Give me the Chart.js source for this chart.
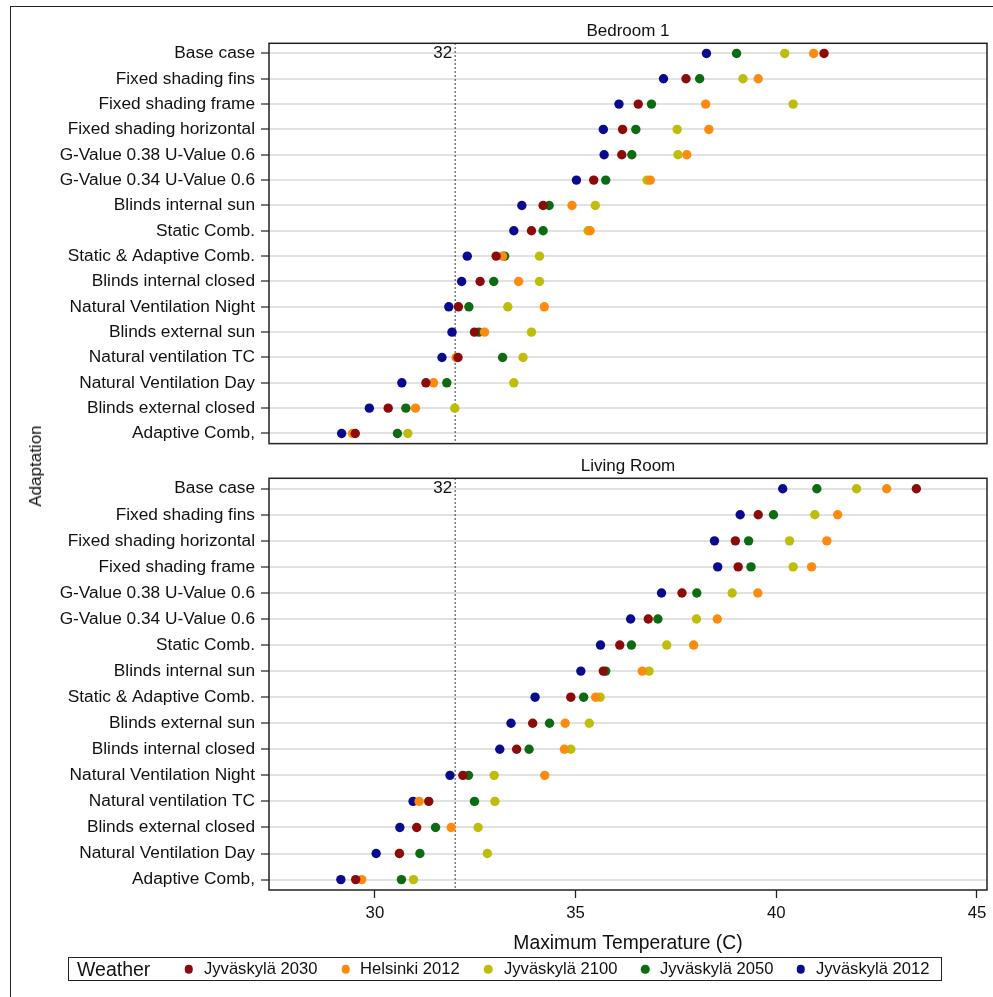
<!DOCTYPE html>
<html>
<head>
<meta charset="utf-8">
<script src="https://cdn.jsdelivr.net/npm/chart.js@4.4.1/dist/chart.umd.min.js"></script>
<style>
  html, body { margin: 0; padding: 0; background: #fff; }
  #wrap { position: relative; width: 993px; height: 997px; overflow: hidden; background: #fff;
          font-family: 'Liberation Sans', Arial, sans-serif; color: #111; }
  .frameTop { position: absolute; left: 10px; top: 6px; width: 983px; height: 0; border-top: 1.5px solid #222; }
  .frameLeft { position: absolute; left: 10px; top: 6px; width: 0; height: 991px; border-left: 1.5px solid #222; }
  .panel { position: absolute; left: 0; }
  #yTitle { position: absolute; left: 36px; top: 466px; transform: translate(-50%, -50%) rotate(-90deg);
            font-size: 17px; white-space: nowrap; }
  #legend { position: absolute; left: 68px; top: 957px; width: 872px; height: 22px; border: 1.5px solid #222; }
  #legend .ttl { position: absolute; left: 8px; top: 50%; transform: translateY(-50%); font-size: 19.5px; }
  #legend .dot { position: absolute; top: 50%; width: 8.5px; height: 8.5px; border-radius: 50%; transform: translate(-50%, -50%); }
  #legend .lab { position: absolute; top: 50%; transform: translateY(-50%); font-size: 16.6px; white-space: nowrap; }
</style>
</head>
<body>
<div id="wrap">
  <div class="frameTop"></div>
  <div class="frameLeft"></div>
  <div class="panel" style="top:0"><canvas id="bedroom" width="993" height="460"></canvas></div>
  <div class="panel" style="top:446px"><canvas id="living" width="993" height="514"></canvas></div>
  <div id="yTitle">Adaptation</div>
  <div id="legend"></div>
</div>
<script>
// Adaptation measures, top to bottom, for each room
const bedroomCategories = [
  'Base case', 'Fixed shading fins', 'Fixed shading frame', 'Fixed shading horizontal',
  'G-Value 0.38 U-Value 0.6', 'G-Value 0.34 U-Value 0.6', 'Blinds internal sun', 'Static Comb.',
  'Static & Adaptive Comb.', 'Blinds internal closed', 'Natural Ventilation Night', 'Blinds external sun',
  'Natural ventilation TC', 'Natural Ventilation Day', 'Blinds external closed', 'Adaptive Comb,'
];
const livingCategories = [
  'Base case', 'Fixed shading fins', 'Fixed shading horizontal', 'Fixed shading frame',
  'G-Value 0.38 U-Value 0.6', 'G-Value 0.34 U-Value 0.6', 'Static Comb.', 'Blinds internal sun',
  'Static & Adaptive Comb.', 'Blinds external sun', 'Blinds internal closed', 'Natural Ventilation Night',
  'Natural ventilation TC', 'Blinds external closed', 'Natural Ventilation Day', 'Adaptive Comb,'
];

// Maximum temperature (C) per weather file, Bedroom 1
const bedroomJyv2030 = [41.19, 37.75, 36.56, 36.17, 36.15, 35.45, 34.19, 33.90, 33.02, 32.62, 32.08, 32.48, 32.07, 31.27, 30.33, 29.51];
const bedroomHel2012 = [40.93, 39.55, 38.24, 38.32, 37.77, 36.86, 34.91, 35.36, 33.18, 33.58, 34.22, 32.73, 32.02, 31.46, 31.01, 29.44];
const bedroomJyv2100 = [40.21, 39.17, 40.42, 37.53, 37.55, 36.78, 35.49, 35.31, 34.10, 34.10, 33.31, 33.90, 33.69, 33.46, 31.99, 30.82];
const bedroomJyv2050 = [39.01, 38.09, 36.89, 36.50, 36.40, 35.75, 34.34, 34.19, 33.23, 32.96, 32.34, 32.59, 33.18, 31.79, 30.77, 30.56];
const bedroomJyv2012 = [38.26, 37.19, 36.08, 35.69, 35.71, 35.02, 33.66, 33.46, 32.30, 32.16, 31.84, 31.92, 31.67, 30.67, 29.86, 29.17];

// Maximum temperature (C) per weather file, Living Room
const livingJyv2030 = [43.49, 39.55, 38.98, 39.05, 37.65, 36.81, 36.10, 35.69, 34.88, 33.93, 33.53, 32.19, 31.34, 31.04, 30.61, 29.52];
const livingHel2012 = [42.75, 41.53, 41.26, 40.88, 39.54, 38.53, 37.94, 36.66, 35.50, 34.74, 34.72, 34.23, 31.10, 31.90, 30.61, 29.67];
const livingJyv2100 = [42.00, 40.96, 40.33, 40.42, 38.90, 38.01, 37.27, 36.83, 35.61, 35.34, 34.88, 32.97, 32.99, 32.57, 32.80, 30.96];
const livingJyv2050 = [41.01, 39.93, 39.31, 39.37, 38.02, 37.05, 36.39, 35.75, 35.20, 34.35, 33.84, 32.33, 32.48, 31.51, 31.12, 30.66];
const livingJyv2012 = [40.16, 39.10, 38.46, 38.54, 37.14, 36.37, 35.62, 35.13, 33.99, 33.39, 33.11, 31.87, 30.95, 30.62, 30.03, 29.15];

// Weather series: legend names and marker colours
const seriesNames = ['Jyväskylä 2030', 'Helsinki 2012', 'Jyväskylä 2100', 'Jyväskylä 2050', 'Jyväskylä 2012'];
const seriesColors = ['#8c0a0a', '#ff8a0d', '#bdbd0a', '#0d6b12', '#0a0a8f'];

// Axis settings
const xTickValues = [30, 35, 40, 45];
const xMin = 27.36, xMax = 45.25;
const thresholdTemp = 32;

const labelFont = "'Liberation Sans', Arial, sans-serif";
Chart.defaults.font.family = labelFont;
Chart.defaults.color = '#111';

function makeDatasets(cats, seriesValues) {
  const sets = seriesValues.map((vals, s) => ({
    label: seriesNames[s],
    data: vals.map((v, i) => ({ x: v, y: i })),
    backgroundColor: seriesColors[s],
    borderWidth: 0,
    pointRadius: 4.7,
    pointStyle: 'circle',
    showLine: false
  }));
  // dotted threshold line at 32 C
  sets.push({
    label: 'threshold',
    data: [{ x: thresholdTemp, y: -0.4 }, { x: thresholdTemp, y: cats.length - 0.6 }],
    showLine: true,
    borderColor: '#444',
    borderWidth: 1.4,
    borderDash: [1.4, 2.6],
    pointRadius: 0,
    fill: false
  });
  return sets;
}

// Panel header, frame and threshold label
const panelPlugin = {
  id: 'panelDecor',
  afterDraw(chart, args, opts) {
    const { ctx, chartArea: a, scales } = chart;
    ctx.save();
    ctx.strokeStyle = '#222';
    ctx.lineWidth = 1.5;
    ctx.strokeRect(a.left, a.top, a.right - a.left, a.bottom - a.top);
    ctx.fillStyle = '#111';
    ctx.font = '17px ' + labelFont;
    ctx.textAlign = 'center';
    ctx.textBaseline = 'middle';
    ctx.fillText(opts.title, (a.left + a.right) / 2, a.top - 11.5);
    ctx.font = '17px ' + labelFont;
    ctx.textAlign = 'right';
    ctx.fillText(String(thresholdTemp), scales.x.getPixelForValue(thresholdTemp) - 3, scales.y.getPixelForValue(0));
    ctx.restore();
  }
};

function makeChart(id, cats, seriesValues, title, showX, padding) {
  return new Chart(document.getElementById(id), {
    type: 'scatter',
    data: { datasets: makeDatasets(cats, seriesValues) },
    plugins: [panelPlugin],
    options: {
      responsive: false,
      devicePixelRatio: 1,
      animation: false,
      events: [],
      layout: { padding },
      plugins: {
        legend: { display: false },
        tooltip: { enabled: false },
        panelDecor: { title }
      },
      scales: {
        x: {
          type: 'linear',
          min: xMin,
          max: xMax,
          display: showX,
          afterBuildTicks: s => { s.ticks = xTickValues.map(v => ({ value: v })); },
          afterFit: s => { if (showX) s.height = 65; },
          grid: { drawOnChartArea: false, drawTicks: true, tickLength: 8, tickColor: '#222', tickWidth: 1.3 },
          border: { display: false },
          ticks: { font: { size: 16.8 }, padding: 5, color: '#111', maxRotation: 0 },
          title: { display: showX, text: 'Maximum Temperature (C)', font: { size: 19.3 }, padding: { top: 0, bottom: 0 }, color: '#111' }
        },
        y: {
          type: 'linear',
          reverse: true,
          min: -0.4,
          max: cats.length - 0.6,
          afterBuildTicks: s => { s.ticks = cats.map((c, i) => ({ value: i })); },
          afterFit: s => { s.width = 269; },
          grid: { color: '#e2e2e2', lineWidth: 2, drawTicks: true, tickLength: 8, tickColor: '#222', tickWidth: 1.2 },
          border: { display: false },
          ticks: { autoSkip: false, font: { size: 17.3 }, padding: 6, color: '#111', callback: v => cats[v] }
        }
      }
    }
  });
}

makeChart('bedroom', bedroomCategories,
  [bedroomJyv2030, bedroomHel2012, bedroomJyv2100, bedroomJyv2050, bedroomJyv2012],
  'Bedroom 1', false, { top: 43.3, right: 6, bottom: 5, left: 0 });

makeChart('living', livingCategories,
  [livingJyv2030, livingHel2012, livingJyv2100, livingJyv2050, livingJyv2012],
  'Living Room', true, { top: 32.3, right: 6, bottom: 5, left: 0 });

// Legend
const legendPos = [
  { dot: 119.5, text: 135 },
  { dot: 276.5, text: 291 },
  { dot: 419, text: 435 },
  { dot: 576, text: 591 },
  { dot: 731.5, text: 747 }
];
const legend = document.getElementById('legend');
const ttl = document.createElement('span');
ttl.className = 'ttl';
ttl.textContent = 'Weather';
legend.appendChild(ttl);
seriesNames.forEach((name, i) => {
  const d = document.createElement('span');
  d.className = 'dot';
  d.style.left = legendPos[i].dot + 'px';
  d.style.background = seriesColors[i];
  legend.appendChild(d);
  const t = document.createElement('span');
  t.className = 'lab';
  t.style.left = legendPos[i].text + 'px';
  t.textContent = name;
  legend.appendChild(t);
});
</script>
</body>
</html>
